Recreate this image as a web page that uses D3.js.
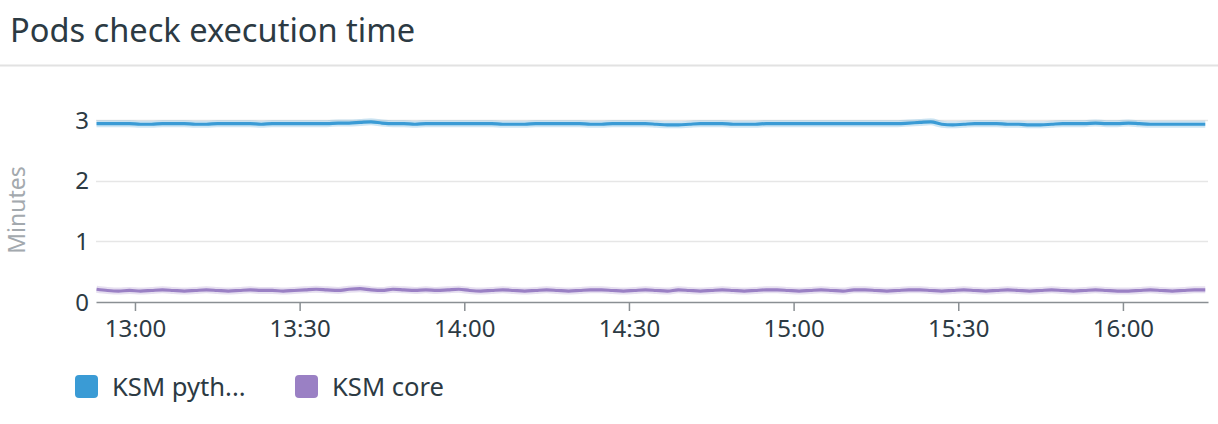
<!DOCTYPE html>
<html><head><meta charset="utf-8">
<script src="https://cdn.jsdelivr.net/npm/d3@7"></script>
<style>
html,body{margin:0;padding:0;background:#fff;}
svg{display:block;font-family:"Noto Sans","Open Sans",sans-serif;}
</style></head>
<body><svg id="c" width="1218" height="424"></svg>
<script>
const title = "Pods check execution time";
const yLabel = "Minutes";
const seriesNames = ["KSM pyth...", "KSM core"];
const seriesColors = ["#3a9bd5", "#9a80c4"];
const yTicks = [0, 1, 2, 3];
const xTickTimes = ["13:00","13:30","14:00","14:30","15:00","15:30","16:00"];
const startTime = "12:53";
const stepMinutes = 2;
// KSM python check (minutes), one value every 2 minutes from 12:53
const ksmPython = [
2.94,2.94,2.94,2.94,2.93,2.93,2.94,2.94,2.94,2.93,
2.93,2.94,2.94,2.94,2.94,2.93,2.94,2.94,2.94,2.94,
2.94,2.94,2.95,2.95,2.96,2.97,2.95,2.94,2.94,2.93,
2.94,2.94,2.94,2.94,2.94,2.94,2.94,2.93,2.93,2.93,
2.94,2.94,2.94,2.94,2.94,2.93,2.93,2.94,2.94,2.94,
2.94,2.93,2.92,2.92,2.93,2.94,2.94,2.94,2.93,2.93,
2.93,2.94,2.94,2.94,2.94,2.94,2.94,2.94,2.94,2.94,
2.94,2.94,2.94,2.94,2.95,2.96,2.97,2.93,2.92,2.93,
2.94,2.94,2.94,2.93,2.93,2.92,2.92,2.93,2.94,2.94,
2.94,2.95,2.94,2.94,2.95,2.94,2.93,2.93,2.93,2.93,
2.93,2.93
];
// KSM core check (minutes)
const ksmCore = [
0.21,0.19,0.18,0.19,0.18,0.19,0.20,0.19,0.18,0.19,
0.20,0.19,0.18,0.19,0.20,0.19,0.19,0.18,0.19,0.20,
0.21,0.20,0.19,0.21,0.22,0.20,0.19,0.21,0.20,0.19,
0.20,0.19,0.20,0.21,0.19,0.18,0.19,0.20,0.19,0.18,
0.19,0.20,0.19,0.18,0.19,0.20,0.20,0.19,0.18,0.19,
0.20,0.19,0.18,0.20,0.19,0.18,0.19,0.20,0.19,0.18,
0.19,0.20,0.20,0.19,0.18,0.19,0.20,0.19,0.18,0.20,
0.20,0.19,0.18,0.19,0.20,0.20,0.19,0.18,0.19,0.20,
0.19,0.18,0.19,0.20,0.19,0.18,0.19,0.20,0.19,0.18,
0.19,0.20,0.19,0.18,0.18,0.19,0.20,0.19,0.18,0.19,
0.20,0.20
];

const svg = d3.select("#c");
const W = 1218, H = 424;
const m = {left:96, right:10};
const parse = s => { const [h,mi] = s.split(":").map(Number); return new Date(2020,0,1,h,mi); };
const t0 = parse(startTime);
const times = ksmPython.map((d,i) => new Date(t0.getTime() + i*stepMinutes*60000));
const domStart = new Date(t0.getTime() - 6000);
const domEnd = new Date(parse("16:15").getTime() + 30000);

const x = d3.scaleTime().domain([domStart, domEnd]).range([m.left, W - m.right]);
const y = d3.scaleLinear().domain([0, 3]).range([302, 120]);

// title
svg.append("text").attr("x", 10).attr("y", 42).attr("font-size", 32.6).attr("fill", "#2c3a43").text(title);
svg.append("line").attr("x1",0).attr("x2",W).attr("y1",65.5).attr("y2",65.5).attr("stroke","#e2e2e2").attr("stroke-width",2);

// grid
svg.append("g").selectAll("line").data(yTicks.filter(d=>d>0)).join("line")
  .attr("x1", m.left).attr("x2", W - m.right)
  .attr("y1", d => Math.round(y(d))+0.5).attr("y2", d => Math.round(y(d))+0.5)
  .attr("stroke", "#e6e6e6").attr("stroke-width", 1.5);

// y labels
svg.append("g").selectAll("text").data(yTicks).join("text")
  .attr("x", 89).attr("y", d => y(d)).attr("dy", "0.36em")
  .attr("text-anchor","end").attr("font-size", 24).attr("fill","#2c3a43").text(d => d);

svg.append("text").attr("transform", "translate(25,210) rotate(-90)")
  .attr("text-anchor","middle").attr("font-size", 23).attr("fill","#a3a9ae").text(yLabel);

// x axis
const xAxis = d3.axisBottom(x).tickValues(xTickTimes.map(parse)).tickFormat(d3.timeFormat("%H:%M")).tickSize(9).tickSizeOuter(0);
const gx = svg.append("g").attr("transform", "translate(0,302)").call(xAxis);
gx.select(".domain").attr("stroke","#8a8f93").attr("stroke-width",1.5);
gx.selectAll(".tick line").attr("stroke","#8a8f93").attr("stroke-width",1.5);
gx.selectAll(".tick text").attr("font-size",24).attr("fill","#2c3a43").attr("font-family","'Noto Sans','Open Sans',sans-serif").attr("dy","0.95em");

// lines
const line = d3.line().x((d,i) => x(times[i])).y(d => y(d)).curve(d3.curveMonotoneX);
[ksmPython, ksmCore].forEach((s, k) => {
  svg.append("path").datum(s).attr("d", line).attr("fill","none")
    .attr("stroke", seriesColors[k]).attr("stroke-opacity",0.25).attr("stroke-width",7).attr("stroke-linejoin","round");
  svg.append("path").datum(s).attr("d", line).attr("fill","none")
    .attr("stroke", seriesColors[k]).attr("stroke-width",3.2).attr("stroke-linejoin","round");
});

// legend
const lg = svg.append("g").selectAll("g").data(seriesNames).join("g")
  .attr("transform", (d,i) => `translate(${i===0?75:295},375)`);
lg.append("rect").attr("width",23).attr("height",23).attr("rx",4).attr("fill",(d,i)=>seriesColors[i]);
lg.append("text").attr("x",37).attr("y",11.5).attr("dy","0.36em").attr("font-size",25.6).attr("fill","#2c3a43").text(d=>d);
</script></body></html>
